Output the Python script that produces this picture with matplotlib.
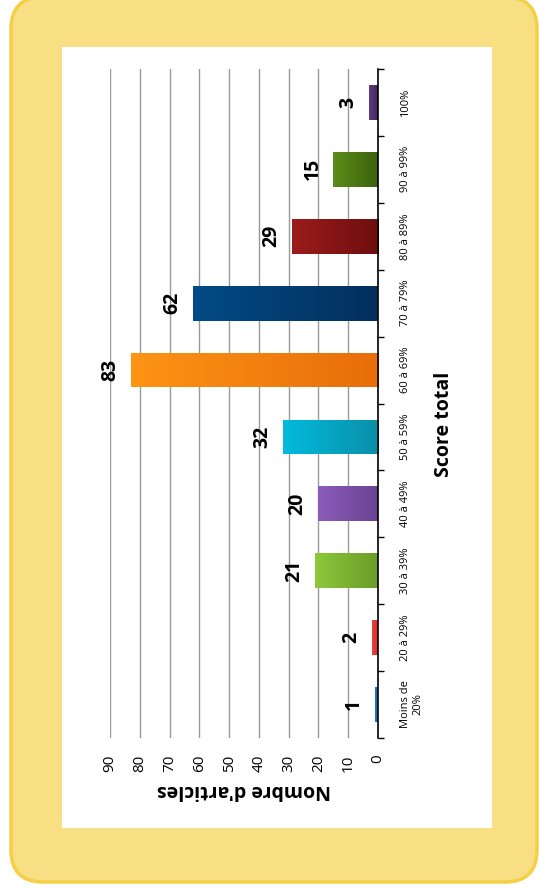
import numpy as np
import matplotlib

matplotlib.use("Agg")
import matplotlib.pyplot as plt
from matplotlib.colors import LinearSegmentedColormap
from matplotlib.patches import FancyBboxPatch, Rectangle

plt.rcParams["font.family"] = ["Open Sans", "DejaVu Sans"]

# data
categories = ["Moins de\n20%", "20 à 29%", "30 à 39%", "40 à 49%", "50 à 59%",
              "60 à 69%", "70 à 79%", "80 à 89%", "90 à 99%", "100%"]
counts = [1, 2, 21, 20, 32, 83, 62, 29, 15, 3]
value_ticks = [0, 10, 20, 30, 40, 50, 60, 70, 80, 90]

# (light end, dark base) per bar
colors = [
    ("#1E7BD0", "#0F62B0"),
    ("#E8423A", "#D42F2A"),
    ("#8DC93B", "#6A9C29"),
    ("#8C5CBA", "#694392"),
    ("#03BADD", "#0A8FA8"),
    ("#FD9414", "#E86D0A"),
    ("#034B87", "#022F5C"),
    ("#9C1C1C", "#6E0E0E"),
    ("#5B8C1A", "#3D620C"),
    ("#5E3C82", "#45275D"),
]

W, H = 539, 890
fig = plt.figure(figsize=(W / 100, H / 100), dpi=100)
fig.patch.set_facecolor("white")

# background frame in pixel coordinates
bg = fig.add_axes([0, 0, 1, 1], zorder=-5)
bg.set_xlim(0, W)
bg.set_ylim(H, 0)
bg.axis("off")
bg.add_patch(FancyBboxPatch((11, -3), 526, 885, boxstyle="round,pad=0,rounding_size=32",
                            facecolor="#F8DF84", edgecolor="#F5CF45", linewidth=2.5))
bg.add_patch(Rectangle((62, 47), 430, 781, facecolor="white", edgecolor="none"))


def px_axes(x0, y0, x1, y1):
    return [x0 / W, 1 - y1 / H, (x1 - x0) / W, (y1 - y0) / H]


ax = fig.add_axes(px_axes(110, 69, 378, 738))
ax.set_facecolor("none")

y = np.arange(len(categories))
bars = ax.barh(y, counts, height=0.52, color="none", edgecolor="none", zorder=3)

grad = np.linspace(0, 1, 256).reshape(1, -1)
for b, (c1, c2) in zip(bars, colors):
    cmap = LinearSegmentedColormap.from_list("g", [c1, c2])
    x0 = b.get_x()
    x1 = b.get_x() + b.get_width()
    y0 = b.get_y()
    y1 = b.get_y() + b.get_height()
    im = ax.imshow(grad, cmap=cmap, extent=(x1, x0, y0, y1), aspect="auto",
                   interpolation="bilinear", zorder=3)
    im.set_clip_path(b)

for yi, v in zip(y, counts):
    ax.annotate(f"{v}", xy=(v, yi), xytext=(-15, 0), textcoords="offset points",
                rotation=90, ha="center", va="center", fontsize=14,
                fontweight="bold", color="black", zorder=4)

ax.set_xlim(90, 0)
ax.set_ylim(-0.5, len(categories) - 0.5)

ax.set_xticks(value_ticks)
ax.set_xticklabels([str(t) for t in value_ticks])
ax.tick_params(axis="x", length=0, pad=12, labelsize=11, labelrotation=90)
ax.grid(True, axis="x", color="#9A9A9A", linewidth=1.0, zorder=0)
ax.set_axisbelow(True)

ax.set_yticks(y)
ax.set_yticklabels(categories, rotation=90, ha="left", va="center",
                   multialignment="center", fontsize=8)
ax.set_yticks(np.arange(-0.5, len(categories)), minor=True)
ax.tick_params(axis="y", which="major", left=False, right=False,
               labelleft=False, labelright=True, pad=12.5)
ax.tick_params(axis="y", which="minor", left=False, right=True,
               length=4, width=1.0, color="black")

for side in ["top", "left", "bottom"]:
    ax.spines[side].set_visible(False)
ax.spines["right"].set_color("black")
ax.spines["right"].set_linewidth(1.2)
ax.spines["right"].set_zorder(5)

fig.text(244 / W, 1 - 790 / H, "Nombre d'articles", rotation=180, ha="center",
         va="center", fontsize=14, fontweight="bold")
fig.text(444 / W, 1 - 424 / H, "Score total", rotation=90, ha="center",
         va="center", fontsize=14, fontweight="bold")

fig.savefig("out.png", dpi=100)
